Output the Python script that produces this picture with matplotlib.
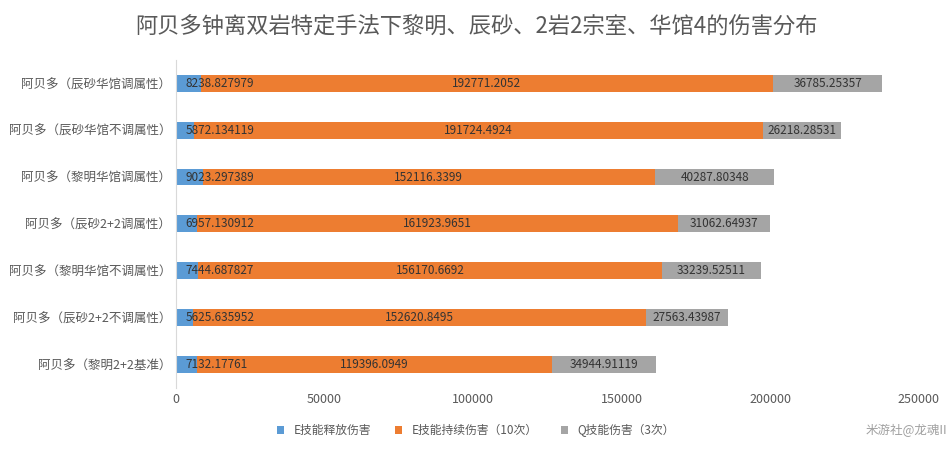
import matplotlib.pyplot as plt
import numpy as np

plt.rcParams['font.family'] = ['Noto Sans CJK SC', 'Noto Sans CJK JP', 'Noto Sans CJK TC', 'DejaVu Sans']

cats = ['阿贝多（辰砂华馆调属性）', '阿贝多（辰砂华馆不调属性）', '阿贝多（黎明华馆调属性）',
        '阿贝多（辰砂2+2调属性）', '阿贝多（黎明华馆不调属性）', '阿贝多（辰砂2+2不调属性）',
        '阿贝多（黎明2+2基准）']
e_cast = [8238.827979, 5872.134119, 9023.297389, 6957.130912, 7444.687827, 5625.635952, 7132.17761]
e_dot = [192771.2052, 191724.4924, 152116.3399, 161923.9651, 156170.6692, 152620.8495, 119396.0949]
q_dmg = [36785.25357, 26218.28531, 40287.80348, 31062.64937, 33239.52511, 27563.43987, 34944.91119]
labels = ['E技能释放伤害', 'E技能持续伤害（10次）', 'Q技能伤害（3次）']
colors = ['#5B9BD5', '#ED7D31', '#A5A5A5']

fig = plt.figure(figsize=(9.52, 4.5), dpi=100)
ax = fig.add_axes([0.185, 0.138, 0.78, 0.729])
y = np.arange(len(cats))[::-1]
left = np.zeros(len(cats))
for k, (vals, lab, c) in enumerate(zip([e_cast, e_dot, q_dmg], labels, colors)):
    vals = np.array(vals)
    ax.barh(y, vals, left=left, height=0.36, color=c, label=lab)
    for yi, l, v in zip(y, left, vals):
        if k == 0:
            ax.text(3200, yi, str(v), ha='left', va='center', fontsize=8.5, color='#333333')
        else:
            ax.text(l + v / 2, yi, str(v), ha='center', va='center', fontsize=8.5, color='#333333')
    left = left + vals

ax.set_xlim(0, 250000)
ax.set_ylim(-0.5, len(cats) - 0.5)
ax.set_yticks(y)
ax.set_yticklabels(cats, fontsize=9, color='#595959')
ax.set_xticks(range(0, 250001, 50000))
ax.tick_params(axis='x', labelsize=9, colors='#595959', length=0)
ax.tick_params(axis='y', length=0)
for s in ['top', 'right', 'bottom']:
    ax.spines[s].set_visible(False)
ax.spines['left'].set_color('#D9D9D9')

fig.suptitle('阿贝多钟离双岩特定手法下黎明、辰砂、2岩2宗室、华馆4的伤害分布',
             y=0.965, fontsize=16, color='#595959')
fig.legend(loc='lower center', bbox_to_anchor=(0.5, 0.005), ncol=3, frameon=False,
           fontsize=8.5, handlelength=0.6, handleheight=0.6, columnspacing=2,
           labelcolor='#595959')
fig.text(0.995, 0.035, '米游社@龙魂II', ha='right', fontsize=9, color='#A0A0A0')
fig.savefig('out.png')
